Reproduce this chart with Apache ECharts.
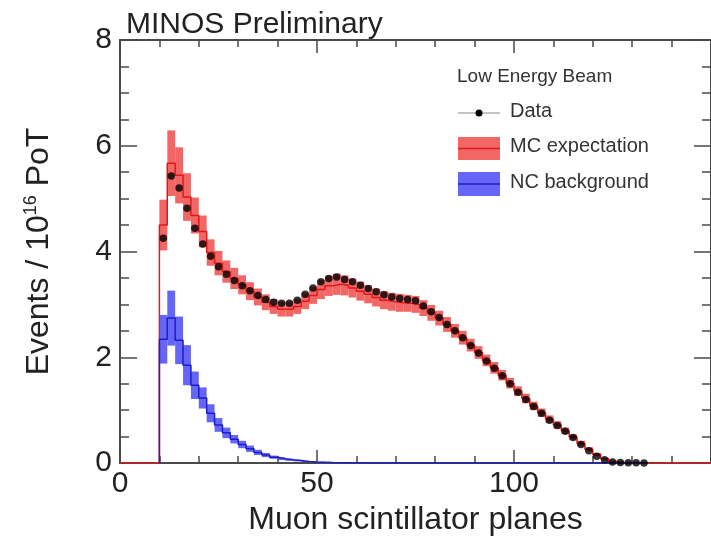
<!DOCTYPE html>
<html><head><meta charset="utf-8">
<script src="https://cdn.jsdelivr.net/npm/echarts@6/dist/echarts.min.js"></script>
<style>html,body{margin:0;padding:0;background:#fff}#c{width:711px;height:551px}</style>
</head><body><div id="c"></div>
<script>
// bin centres (muon scintillator planes), bin width 2
const planes = [11,13,15,17,19,21,23,25,27,29,31,33,35,37,39,41,43,45,47,49,51,53,55,57,59,61,63,65,67,69,71,73,75,77,79,81,83,85,87,89,91,93,95,97,99,101,103,105,107,109,111,113,115,117,119,121,123,125,127,129,131,133];
const dataVals = [4.25,5.43,5.20,4.82,4.44,4.14,3.91,3.71,3.57,3.45,3.35,3.26,3.17,3.09,3.04,3.02,3.02,3.08,3.19,3.31,3.43,3.49,3.52,3.47,3.43,3.36,3.30,3.24,3.18,3.14,3.11,3.09,3.07,2.97,2.86,2.75,2.62,2.50,2.37,2.22,2.08,1.93,1.79,1.65,1.50,1.34,1.20,1.07,0.94,0.81,0.71,0.60,0.48,0.35,0.23,0.13,0.06,0.02,0.01,0.005,0.003,0.002];
const mcVals = [4.50,5.67,5.44,5.03,4.68,4.38,3.98,3.78,3.62,3.49,3.37,3.25,3.14,3.04,2.96,2.91,2.91,2.96,3.06,3.17,3.28,3.35,3.38,3.36,3.31,3.25,3.19,3.13,3.08,3.05,3.03,3.02,3.00,2.93,2.84,2.74,2.62,2.50,2.37,2.23,2.09,1.94,1.80,1.66,1.51,1.36,1.22,1.08,0.95,0.83,0.72,0.61,0.49,0.37,0.26,0.16,0.08,0.03,0.01,0.005,0.002,0.001];
const mcErr = [0.48,0.62,0.53,0.45,0.34,0.30,0.25,0.23,0.21,0.20,0.18,0.17,0.16,0.15,0.14,0.14,0.14,0.14,0.15,0.16,0.18,0.19,0.20,0.19,0.18,0.18,0.17,0.17,0.17,0.17,0.17,0.16,0.16,0.15,0.15,0.14,0.14,0.13,0.13,0.12,0.12,0.11,0.11,0.10,0.10,0.09,0.09,0.08,0.08,0.07,0.07,0.06,0.05,0.05,0.04,0.03,0.02,0.01,0.005,0.004,0.002,0.001];
const ncVals = [2.34,2.74,2.32,1.85,1.47,1.23,0.94,0.72,0.57,0.45,0.35,0.27,0.20,0.15,0.11,0.08,0.06,0.045,0.03,0.02,0.015,0.01,0.007,0.005,0.004,0.003,0.002,0.002,0.001,0.001,0,0,0,0,0,0,0,0,0,0,0,0,0,0,0,0,0,0,0,0,0,0,0,0,0,0,0,0,0,0,0,0];
const ncErr = [0.46,0.52,0.45,0.38,0.26,0.20,0.17,0.13,0.10,0.08,0.07,0.06,0.05,0.04,0.03,0.025,0.02,0.015,0.01,0.01,0.008,0.006,0.005,0.004,0.003,0.002,0.002,0.001,0.001,0.001,0,0,0,0,0,0,0,0,0,0,0,0,0,0,0,0,0,0,0,0,0,0,0,0,0,0,0,0,0,0,0,0];
const xTicks = [0, 50, 100];
const yTicks = [0, 2, 4, 6, 8];

const FONT = '"Liberation Sans", Arial, Helvetica, sans-serif';
const AX = '#4a4a4a';
const HALF = 1; // half bin width

function stepLine(vals, from, to) {
  const pts = [];
  const first = planes[0] - HALF, last = planes[planes.length - 1] + HALF;
  if (from !== null) pts.push([from, 0]);
  pts.push([first, 0]);
  for (let i = 0; i < planes.length; i++) {
    pts.push([planes[i] - HALF, vals[i]]);
    pts.push([planes[i] + HALF, vals[i]]);
  }
  pts.push([last, 0]);
  if (to !== null) pts.push([to, 0]);
  return pts;
}
function bandSeries(vals, errs, color, z) {
  return {
    type: 'custom', z: z, silent: true, animation: false,
    xAxisIndex: 0, yAxisIndex: 0,
    data: planes.map((p, i) => [p, vals[i], errs[i]]),
    renderItem: function (params, api) {
      const x = api.value(0), y = api.value(1), e = api.value(2);
      const a = api.coord([x - HALF, y + e]);
      const b = api.coord([x + HALF, y - e]);
      return { type: 'rect', shape: { x: a[0], y: a[1], width: b[0] - a[0], height: b[1] - a[1] },
               style: { fill: color } };
    }
  };
}

const chart = echarts.init(document.getElementById('c'), null, { renderer: 'canvas' });
const common = { type: 'value', splitLine: { show: false } };
chart.setOption({
  backgroundColor: '#fff',
  animation: false,
  title: { text: 'MINOS Preliminary', left: 121, top: 5,
    textStyle: { fontFamily: FONT, fontSize: 30, fontWeight: 'normal', color: '#222' } },
  grid: { left: 120, top: 40, width: 600, height: 423, containLabel: false },
  xAxis: [
    Object.assign({}, common, { position: 'bottom', min: 0, max: 150, interval: 50,
      axisLine: { show: true, onZero: false, lineStyle: { color: AX, width: 2 } },
      axisTick: { show: true, inside: true, length: 13, lineStyle: { color: AX, width: 1.5 } },
      minorTick: { show: true, splitNumber: 5, length: 7, lineStyle: { color: AX, width: 1.5 } },
      axisLabel: { show: true, showMaxLabel: false, margin: 6, fontFamily: FONT, fontSize: 30, color: '#222',
        formatter: v => xTicks.indexOf(v) >= 0 ? String(v) : '' },
      name: 'Muon scintillator planes', nameLocation: 'middle', nameGap: 40,
      nameTextStyle: { fontFamily: FONT, fontSize: 32, color: '#222' } }),
    Object.assign({}, common, { position: 'top', min: 0, max: 150, interval: 50,
      axisLine: { show: true, onZero: false, lineStyle: { color: AX, width: 2 } },
      axisTick: { show: true, inside: true, length: 13, lineStyle: { color: AX, width: 1.5 } },
      minorTick: { show: true, splitNumber: 5, length: 7, lineStyle: { color: AX, width: 1.5 } },
      axisLabel: { show: false } })
  ],
  yAxis: [
    Object.assign({}, common, { position: 'left', min: 0, max: 8, interval: 2,
      axisLine: { show: true, onZero: false, lineStyle: { color: AX, width: 2 } },
      axisTick: { show: true, inside: true, length: 17, lineStyle: { color: AX, width: 1.5 } },
      minorTick: { show: true, splitNumber: 4, length: 9, lineStyle: { color: AX, width: 1.5 } },
      axisLabel: { show: true, margin: 8, fontFamily: FONT, fontSize: 30, color: '#222',
        formatter: v => yTicks.indexOf(v) >= 0 ? String(v) : '' },
      name: 'Events / 10{sup|16} PoT', nameLocation: 'middle', nameGap: 64, nameRotate: 90,
      nameTextStyle: { fontFamily: FONT, fontSize: 32, color: '#222',
        rich: { sup: { fontFamily: FONT, fontSize: 18, color: '#222', verticalAlign: 'top', padding: [0, 0, 16, 0] } } } }),
    Object.assign({}, common, { position: 'right', min: 0, max: 8, interval: 2,
      axisLine: { show: true, onZero: false, lineStyle: { color: AX, width: 2 } },
      axisTick: { show: true, inside: true, length: 17, lineStyle: { color: AX, width: 1.5 } },
      minorTick: { show: true, splitNumber: 4, length: 9, lineStyle: { color: AX, width: 1.5 } },
      axisLabel: { show: false } })
  ],
  series: [
    bandSeries(mcVals, mcErr, 'rgba(240,75,75,0.85)', 3),
    { type: 'line', name: 'MC expectation', z: 4, data: stepLine(mcVals, 0, 150), showSymbol: false, symbol: 'none',
      lineStyle: { color: '#e01818', width: 1.5 }, animation: false, silent: true },
    bandSeries(ncVals, ncErr, 'rgba(75,75,245,0.85)', 5),
    { type: 'line', name: 'NC background', z: 6, data: stepLine(ncVals, null, null), showSymbol: false, symbol: 'none',
      lineStyle: { color: '#1c1cc8', width: 1.5 }, animation: false, silent: true },
    { type: 'scatter', name: 'Data', z: 8, data: planes.map((p, i) => [p, dataVals[i]]),
      symbol: 'circle', symbolSize: 7.5, itemStyle: { color: '#000' }, animation: false, silent: true }
  ],
  graphic: [
    { type: 'text', left: 457, top: 67, style: { text: 'Low Energy Beam', fontFamily: FONT, fontSize: 19, fill: '#333' } },
    { type: 'line', shape: { x1: 458, y1: 113, x2: 500, y2: 113 }, style: { stroke: '#888', lineWidth: 1.2 } },
    { type: 'circle', shape: { cx: 479, cy: 113, r: 3.5 }, style: { fill: '#000' } },
    { type: 'text', left: 510, top: 101, style: { text: 'Data', fontFamily: FONT, fontSize: 20, fill: '#333' } },
    { type: 'rect', shape: { x: 458, y: 137, width: 42, height: 23 }, style: { fill: 'rgba(240,75,75,0.85)' } },
    { type: 'line', shape: { x1: 458, y1: 148.5, x2: 500, y2: 148.5 }, style: { stroke: '#e01818', lineWidth: 1.5 } },
    { type: 'text', left: 510, top: 136, style: { text: 'MC expectation', fontFamily: FONT, fontSize: 20, fill: '#333' } },
    { type: 'rect', shape: { x: 458, y: 172, width: 42, height: 24 }, style: { fill: 'rgba(75,75,245,0.85)' } },
    { type: 'line', shape: { x1: 458, y1: 184, x2: 500, y2: 184 }, style: { stroke: '#1c1cc8', lineWidth: 1.5 } },
    { type: 'text', left: 510, top: 172, style: { text: 'NC background', fontFamily: FONT, fontSize: 20, fill: '#333' } }
  ]
});
</script>
</body></html>
